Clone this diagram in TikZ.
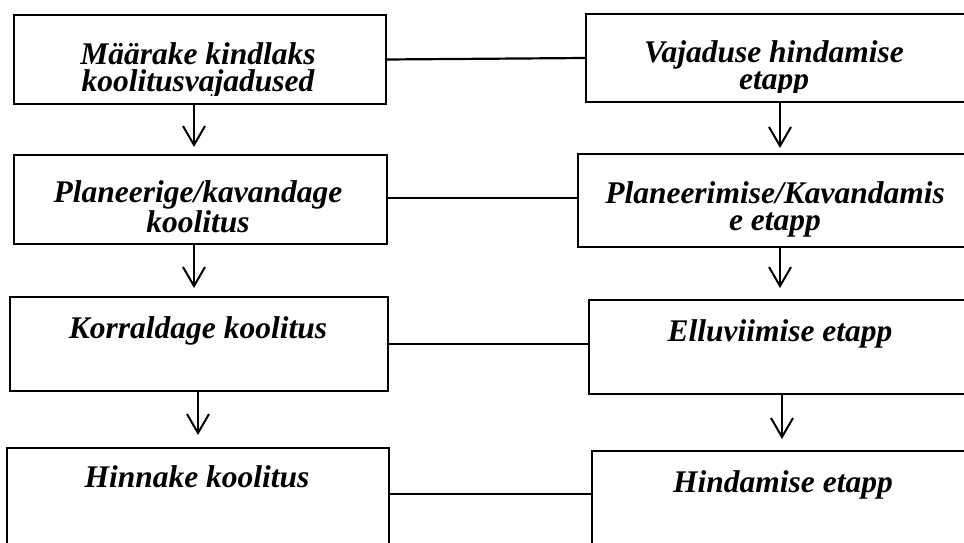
\documentclass[tikz,border=0pt]{standalone}
\usepackage{fontspec}
\setmainfont{Liberation Serif}
\usetikzlibrary{arrows.meta}
\begin{document}
\begin{tikzpicture}[x=1pt,y=-1pt,
  box/.style={draw, line width=2.8pt, anchor=north west, inner sep=0pt, outer sep=0pt},
  txt/.style={anchor=base, inner sep=0pt, align=center, font=\fontsize{31.5}{27}\selectfont\bfseries\itshape},
  link/.style={line width=2.2pt},
  arr/.style={line width=2pt, -{Straight Barb[length=19pt,width=22pt,line width=2pt]}}]
\clip (0,0) rectangle (964,543);
% boxes
\node[box, minimum width=372pt, minimum height=89pt] (L1) at (14,15) {};
\node[box, minimum width=373pt, minimum height=89pt] (L2) at (14,155) {};
\node[box, minimum width=378pt, minimum height=94pt] (L3) at (10,297) {};
\node[box, minimum width=382pt, minimum height=120pt] (L4) at (7,448) {};
\node[box, minimum width=400pt, minimum height=88pt] (R1) at (586,14) {};
\node[box, minimum width=410pt, minimum height=93pt] (R2) at (578,154) {};
\node[box, minimum width=400pt, minimum height=94pt] (R3) at (589,300) {};
\node[box, minimum width=400pt, minimum height=120pt] (R4) at (592,451) {};
% texts (anchor base = baseline of last line)
\begin{scope}
  \clip (0,0) rectangle (500,95);
  \node[txt] (t1) at (198,92) {Määrake kindlaks\\koolitusvajadused};
\end{scope}
\begin{scope}
  \clip (500,0) rectangle (964,92);
  \node[txt] (t2) at (774,89) {Vajaduse hindamise\\etapp};
\end{scope}
\node[txt] (t3) at (198,232) {Planeerige/kavandage\\koolitus};
\node[txt] (t4) at (775,230) {Planeerimise/Kavandamis\\e etapp};
\node[txt] (t5) at (198,338) {Korraldage koolitus};
\node[txt] (t6) at (780,341) {Elluviimise etapp};
\node[txt] (t7) at (197,487) {Hinnake koolitus};
\node[txt] (t8) at (783,492) {Hindamise etapp};
% horizontal links
\draw[link] (L1.east) -- (R1.west);
\draw[link] ([yshift=1.5pt]L2.east) -- ([yshift=2.5pt]R2.west);
\draw[link] (L3.east) -- (R3.west |- L3.east);
\draw[link] ([yshift=-46pt]L4.north east) -- ([yshift=-43pt]R4.north west);
% arrows
\coordinate (xa) at (194,0);
\coordinate (xb) at (198,0);
\coordinate (xc) at (780,0);
\coordinate (xd) at (782,0);
\draw[arr, shorten >=8pt] (L1.south -| xa) -- (L2.north -| xa);
\draw[arr, shorten >=9pt] (L2.south -| xa) -- (L3.north -| xa);
\draw[arr, shorten >=13pt] (L3.south -| xb) -- (L4.north -| xb);
\draw[arr, shorten >=6pt] (R1.south -| xc) -- (R2.north -| xc);
\draw[arr, shorten >=12pt] (R2.south -| xc) -- (R3.north -| xc);
\draw[arr, shorten >=12pt] (R3.south -| xd) -- (R4.north -| xd);
\end{tikzpicture}
\end{document}
